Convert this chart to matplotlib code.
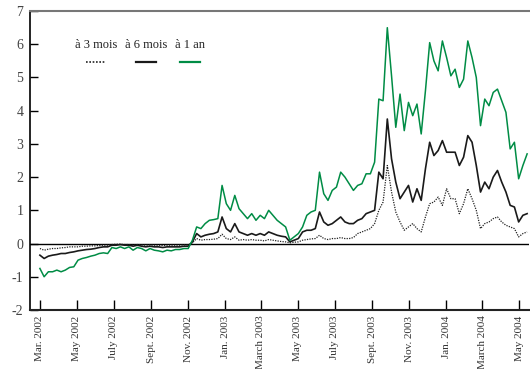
import matplotlib
matplotlib.use('Agg')
import matplotlib.pyplot as plt
import pandas as pd

# weekly observations, Mar. 2002 - May 2004
start = '2002-03-01'

spread_1an = [
    -0.75, -1.0, -0.85, -0.85, -0.8, -0.85, -0.8, -0.72, -0.7, -0.5,
    -0.45, -0.42, -0.38, -0.35, -0.3, -0.28, -0.3, -0.12, -0.15, -0.1,
    -0.15, -0.1, -0.2, -0.12, -0.15, -0.22, -0.15, -0.2, -0.22, -0.25,
    -0.2, -0.22, -0.18, -0.18, -0.15, -0.15, 0.1, 0.5, 0.45, 0.6,
    0.7, 0.72, 0.75, 1.75, 1.2, 1.0, 1.45, 1.05, 0.9, 0.75,
    0.9, 0.7, 0.85, 0.75, 1.0, 0.85, 0.7, 0.6, 0.5, 0.1,
    0.2, 0.3, 0.5, 0.85, 0.95, 1.0, 2.15, 1.5, 1.3, 1.6,
    1.7, 2.15, 2.0, 1.8, 1.6, 1.75, 1.8, 2.1, 2.1, 2.45,
    4.35, 4.3, 6.5, 5.05, 3.5, 4.5, 3.4, 4.25, 3.85, 4.2,
    3.3, 4.6, 6.05, 5.5, 5.2, 6.1, 5.6, 5.05, 5.25, 4.7,
    4.95, 6.1, 5.6, 5.0, 3.55, 4.35, 4.15, 4.55, 4.65, 4.3,
    3.95, 2.85, 3.05, 1.95, 2.35, 2.7,
]

spread_6m = [
    -0.35, -0.45, -0.38, -0.35, -0.33, -0.3, -0.3, -0.27, -0.25, -0.22,
    -0.2, -0.18, -0.17, -0.15, -0.12, -0.1, -0.1, -0.05, -0.05, -0.03,
    -0.05, -0.05, -0.08, -0.05, -0.08, -0.1, -0.08, -0.1, -0.1, -0.12,
    -0.1, -0.1, -0.1, -0.1, -0.08, -0.08, 0.05, 0.3, 0.2, 0.25,
    0.28, 0.3, 0.35, 0.8, 0.45, 0.35, 0.6, 0.35, 0.3, 0.25,
    0.3, 0.25, 0.3, 0.25, 0.35, 0.3, 0.25, 0.22, 0.2, 0.05,
    0.1, 0.15, 0.35, 0.4, 0.4, 0.45, 0.95, 0.65, 0.55, 0.6,
    0.7, 0.8, 0.65, 0.6, 0.6, 0.7, 0.75, 0.9, 0.95, 1.0,
    2.15, 1.95, 3.75, 2.55, 1.85, 1.35, 1.55, 1.75, 1.25, 1.65,
    1.3, 2.25, 3.05, 2.65, 2.8, 3.1, 2.75, 2.75, 2.75, 2.35,
    2.6, 3.25, 3.05, 2.35, 1.55, 1.85, 1.65, 2.0, 2.2, 1.85,
    1.55, 1.15, 1.1, 0.65, 0.85, 0.9,
]

spread_3m = [
    -0.15, -0.2, -0.17, -0.15, -0.15, -0.13, -0.12, -0.1, -0.1, -0.1,
    -0.08, -0.08, -0.07, -0.07, -0.06, -0.05, -0.05, -0.03, -0.02, -0.02,
    -0.03, -0.03, -0.05, -0.03, -0.04, -0.05, -0.04, -0.05, -0.05, -0.06,
    -0.05, -0.05, -0.05, -0.05, -0.04, -0.04, 0.02, 0.15, 0.1, 0.12,
    0.12, 0.13, 0.15, 0.28, 0.15, 0.12, 0.2, 0.1, 0.12, 0.1,
    0.12, 0.1, 0.1, 0.08, 0.12, 0.1, 0.08, 0.06, 0.05, 0.02,
    0.04, 0.05, 0.1, 0.12, 0.14, 0.15, 0.25, 0.15, 0.12, 0.15,
    0.15, 0.18, 0.15, 0.15, 0.18, 0.3, 0.35, 0.4, 0.45, 0.6,
    1.0, 1.25, 2.35, 1.55, 0.95, 0.65, 0.4, 0.5, 0.6, 0.45,
    0.35, 0.8, 1.2, 1.25, 1.4, 1.15, 1.65, 1.35, 1.35, 0.9,
    1.2, 1.65, 1.35, 1.0, 0.45, 0.6, 0.65, 0.75, 0.8, 0.65,
    0.55, 0.5, 0.45, 0.2, 0.3, 0.35,
]

tick_dates = ['2002-03-01', '2002-05-01', '2002-07-01', '2002-09-01', '2002-11-01',
              '2003-01-01', '2003-03-01', '2003-05-01', '2003-07-01', '2003-09-01',
              '2003-11-01', '2004-01-01', '2004-03-01', '2004-05-01']
tick_labels = ['Mar. 2002', 'May 2002', 'July 2002', 'Sept. 2002', 'Nov. 2002',
               'Jan. 2003', 'March 2003', 'May 2003', 'July 2003', 'Sept. 2003',
               'Nov. 2003', 'Jan. 2004', 'March 2004', 'May 2004']

legend_labels = ['à 3 mois', 'à 6 mois', 'à 1 an']

green = '#008c45'
plt.rcParams['font.family'] = ['Liberation Serif', 'DejaVu Serif']
plt.rcParams['axes.unicode_minus'] = False

dates = pd.date_range(start, periods=len(spread_1an), freq='7D')

fig = plt.figure(figsize=(5.30, 3.69), dpi=100)
ax = fig.add_axes([0.057, 0.160, 0.941, 0.810])

ax.axhline(0, color='black', lw=1.0, zorder=1)
ax.plot(dates, spread_3m, color='#222222', lw=0.9, ls=(0, (1, 1)), zorder=2)
ax.plot(dates, spread_6m, color='#1a1a1a', lw=1.2, zorder=3)
ax.plot(dates, spread_1an, color=green, lw=1.1, zorder=4)

ax.set_xlim(pd.Timestamp('2002-02-13'), pd.Timestamp('2004-05-17'))
ax.set_ylim(-2, 7)
ax.set_yticks(range(-2, 8))
ax.set_xticks(pd.to_datetime(tick_dates))
ax.set_xticklabels(tick_labels, rotation=90, fontsize=8, color='#333333')
ax.tick_params(axis='y', labelsize=10, labelcolor='#444444', direction='in',
               length=6, width=1.0, pad=5)
ax.tick_params(axis='x', direction='in', length=7, width=1.0, pad=4)

ax.spines['right'].set_visible(False)
ax.spines['top'].set_color('#777777')
ax.spines['top'].set_linewidth(1.5)
ax.spines['bottom'].set_linewidth(1.5)
ax.spines['bottom'].set_color('#222222')
ax.spines['left'].set_linewidth(1.2)

# legend: label above a short line sample
leg_x = [0.132, 0.232, 0.32]
leg_styles = [dict(color='#222222', lw=1.2, ls=(0, (1, 1))),
              dict(color='#1a1a1a', lw=1.6),
              dict(color=green, lw=1.6)]
for x, lab, st in zip(leg_x, legend_labels, leg_styles):
    ax.text(x, 0.885, lab, transform=ax.transAxes, ha='center', va='center',
            fontsize=9, color='#222222')
    ax.plot([x - 0.02, x + 0.02], [0.828, 0.828], transform=ax.transAxes, **st)

fig.savefig('out.png', dpi=100)
